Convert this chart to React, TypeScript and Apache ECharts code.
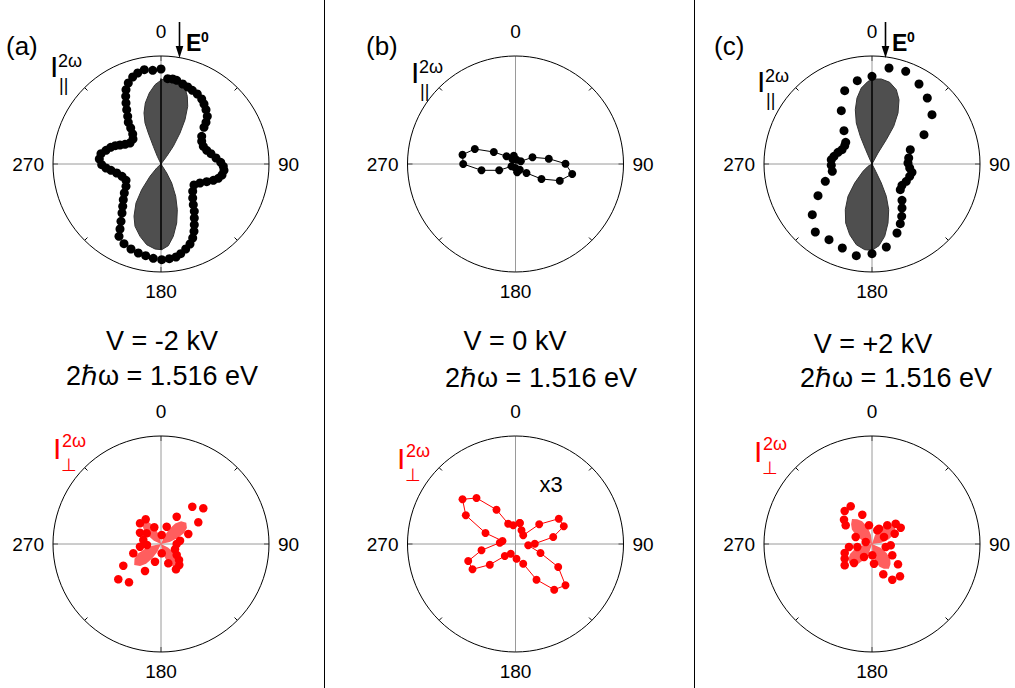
import React, { useEffect, useRef } from "react";
import * as echarts from "echarts";

const FONT = '"Liberation Sans", Arial, Helvetica, sans-serif';

// ---------- texts ----------
const ANGLE_LABELS = [0, 90, 180, 270];
const PANEL_LETTERS = ["(a)", "(b)", "(c)"];
const VOLTAGES = ["V = -2 kV", "V = 0 kV", "V = +2 kV"];
const PHOTON_ENERGY = "2\u210Fω = 1.516 eV";
const SCALE_NOTE = "x3";
const FIELD_LABEL = "E";
const FIELD_SUP = "0";
const INTENSITY = "I";
const INT_SUP = "2ω";
const PAR_SUB = "||";
const PERP_SUB = "⊥";

// ---------- data (x, y) in units where the polar circle radius = 108 ----------
const TOP_A_DOTS = [
  [0, 95], [6.7, 85.3], [11.7, 85], [15.7, 83.7], [21.7, 80], [26.7, 77], [31.3, 73.7], [36.3, 70],
  [40.7, 65], [43, 60], [45, 54.3], [46.3, 47.7], [45, 41.7], [43, 36.7], [40.7, 27.7], [40.7, 22.7],
  [42.3, 17.7], [45.7, 13.7], [50, 10.3], [55, 6], [59.7, 1.7], [62.3, -2.3], [63, -6.3], [61, -11],
  [57.3, -14.3], [52.3, -16.3], [45.7, -17.7], [39, -19], [33, -21], [31.7, -27.3], [31.7, -34],
  [32.3, -40.7], [33.3, -47.3], [33.3, -54], [33.3, -60.7], [33, -67.3], [31.7, -74], [29, -80],
  [24.7, -85], [19.7, -89.7], [15, -93], [8.3, -94.7], [0.7, -95.7], [-7.7, -94.3], [-15.3, -91.7],
  [-22.7, -89], [-30, -85], [-37, -79.7], [-42, -72.3], [-41, -65], [-40, -57.3], [-39, -49],
  [-38.3, -42.3], [-37.7, -35.7], [-36.7, -29], [-35, -22.3], [-35, -16.3], [-39, -12.3], [-44.3, -9],
  [-50, -6.3], [-55, -4], [-59.3, -0.7], [-61.7, 5], [-60, 10.3], [-55, 13.7], [-50.3, 16.7],
  [-45.7, 18.3], [-41, 19], [-36, 19.7], [-31, 21], [-28, 25], [-28.3, 30], [-30.3, 36], [-32.7, 41.7],
  [-33.3, 47.7], [-34.3, 54.3], [-35, 61], [-35.3, 67.7], [-35, 74.3], [-32.7, 81], [-28.3, 87],
  [-23.3, 91], [-16.7, 94.3], [-8.3, 93.7],
];
const TOP_A_LOBE = [
  [0, 0], [5.7, 7.7], [12.3, 17.7], [19, 31], [24, 44.3], [26.7, 57.7], [26.3, 67.7], [24, 76],
  [19, 81.7], [12.3, 85], [5.7, 85.7], [0.7, 84.3], [-6, 79.3], [-11.7, 71], [-15.7, 61], [-17, 51],
  [-16, 41], [-12.7, 31], [-7.7, 17.7], [-3.7, 7.7], [0, 0],
  [5.7, -9], [10.7, -19], [14.7, -32.3], [16.3, -45.7], [15.7, -59], [12.3, -72.3], [7.3, -81.7],
  [0.7, -85.7], [-6, -85], [-14.3, -80.7], [-21, -72.3], [-26, -62.3], [-27, -52.3], [-25, -39],
  [-19.3, -25.7], [-11, -12.3], [-4.3, -4],
];
const TOP_A_AXIS = [[0, -85.7], [0, 85.5]];

const TOP_B_DOTS = [
  [-3, 5], [-1.7, 8.3], [1, 4.3], [5.3, 2.7], [17, 6.7], [33.3, 5.3], [50, 0.3], [56.7, -10],
  [44.3, -16.7], [26, -15], [11, -9], [4.3, -5.7], [1.7, -8.3], [0, -4], [-4, -2.3], [-16.3, -6.3],
  [-34, -6.3], [-52.3, 0], [-53, 9.3], [-40.7, 15], [-21.7, 12], [-9, 7.7],
];

const TOP_C_DOTS = [
  [0, 87.7], [17, 96], [33.7, 92.7], [47, 80], [55.3, 66], [60, 49.3], [52, 29.3], [38.3, 14.3],
  [36.7, 6], [36, 1], [37.7, -4], [40, -8.3], [37.7, -12.3], [34.3, -17.3], [30, -21.3], [28.3, -25.7],
  [30, -36.3], [30, -44], [29.7, -52.3], [28.3, -59.7], [25, -69], [14.3, -83], [0, -89.7],
  [-15.7, -91.7], [-29.7, -84], [-43, -75.7], [-56.7, -68], [-59.7, -50.7], [-54, -31.7],
  [-46.7, -17.3], [-39.7, -7.3], [-40.7, -1.3], [-40.7, 4.3], [-38, 7.7], [-34, 11.7], [-30, 14.3],
  [-27.3, 18.3], [-26.3, 21.7], [-28, 33.3], [-30.7, 53.3], [-27.3, 73.3], [-14.7, 83.3],
];
const TOP_C_LOBE = [
  [0, 0], [6, 11], [14.3, 24.3], [21.7, 37.7], [26, 51], [27, 64.3], [24.3, 74.3], [17.7, 81.7],
  [9.3, 85], [2.7, 85], [-4, 82.7], [-10.7, 76], [-15, 66], [-16.7, 54.3], [-15.7, 41], [-11.7, 27.7],
  [-6.3, 14.3], [-2.3, 5], [0, 0],
  [3.7, -7.3], [9.3, -19], [14.3, -32.3], [16.7, -45.7], [16, -59], [12.7, -72.3], [7, -81.7],
  [0, -86.3], [-7.3, -85.7], [-15.7, -80.7], [-22.3, -70.7], [-26.3, -59], [-26.7, -45.7],
  [-24, -32.3], [-17.3, -19], [-9, -7.3], [-4, -2.3],
];
const TOP_C_AXIS = [[0, -86.3], [0, 85]];

const BOT_A_DOTS = [
  [31.3, 37.3], [42.3, 35.7], [37.3, 21.7], [15.7, 27.3], [27.3, 10], [19, 3.3], [15.7, 0], [14, -5.3],
  [15.7, -11], [18, -16], [18.3, -21], [15, -25.3], [7.3, -19.3], [0.7, -9.3], [-6, -17.7], [-16, -27],
  [-27.7, -9.3], [-37.7, -21.7], [-42.7, -35.3], [-32, -38.3], [-21, -2.7], [-17.7, 4], [-21, 11.3],
  [-21, 20.7], [-15.3, 24.7], [-14.3, 10.7], [-6.7, 16.7], [0.7, 9], [5.7, 17.3], [-14, -1],
];
const BOT_A_LOBE = [
  [0, 0], [3.5, 8.2], [8.4, 14.9], [14.2, 20.4], [20.1, 22.7], [25.3, 21.2], [25.9, 15.9], [22.6, 10.4],
  [16.2, 5.7], [8.7, 2], [0, 0],
  [7, -3.5], [12.3, -8.3], [16.5, -13.9], [17.7, -18], [16.6, -22.5], [12.1, -22.2], [8.5, -19.9],
  [4.3, -14.3], [1.4, -7.7], [0, 0],
  [-3.8, -8.1], [-8.9, -14.5], [-14.9, -19.8], [-20.9, -22], [-26.8, -20.9], [-26.5, -14.8],
  [-22.9, -9.6], [-16.3, -5.1], [-8.8, -1.7], [0, 0],
  [-7.1, 3.3], [-12.5, 7.9], [-16.8, 13.4], [-18.2, 17.5], [-17.9, 22.9], [-12.6, 21.9], [-9, 19.6],
  [-4.7, 14.1], [-1.5, 7.7],
];

const BOT_B_DOTS = [
  [4.3, 21], [6, 13.7], [7.7, 8.7], [23.7, 19.7], [43.3, 25.3], [48.3, 17.7], [37.7, 7], [19.3, 0.3],
  [12.7, -1.3], [25, -9], [42.7, -23], [50, -41.3], [38.7, -45.7], [21, -35.7], [7.7, -19.7],
  [1, -14.7], [-4.7, -9.7], [-10.7, -12], [-25.7, -20.7], [-43, -25.3], [-47.3, -17], [-34, -6.3],
  [-15.7, 1.3], [-13, 3], [-30, 11], [-49.7, 28.7], [-53, 44.7], [-39, 46], [-19, 34.3], [-7.3, 20.3],
  [-2.3, 18.7],
];

const BOT_C_DOTS = [
  [-21.3, 37.7], [-27.3, 33], [-9.7, 29.3], [-28, 24.3], [-26.3, 18.7], [-16.3, 7], [-23, -3],
  [-27.3, -9], [-27.3, -14.7], [-27.3, -21.3], [-18, -19], [-8, -13], [0.3, -11.3], [2, -19.7],
  [11.3, -30.3], [20.3, -35.7], [28, -32.3], [26, -20.3], [20.3, -11.3], [13.7, -3], [12, 7],
  [5.3, 13.7], [-3, 18.7], [7, 15.3], [15.3, 18.7], [23.7, 20.3], [28.7, 16.3], [22.7, 10.3],
  [-14.7, -3], [-6.3, 2], [18.7, -1.3],
];
const BOT_C_LOBE = [
  [0, 0], [3, 9], [8, 15.5], [13.7, 19.6], [18.4, 20.2], [22.8, 18.7], [23.4, 14], [21.9, 9.6],
  [16.8, 4.7], [9.4, 1.2], [0, 0],
  [8.6, -3.8], [14.8, -9.3], [18.3, -15.3], [18.5, -20.1], [16.9, -24.8], [11.9, -24.7], [7.5, -22.7],
  [3.2, -17.1], [0.4, -9.4], [0, 0],
  [-3, -9], [-7.8, -15.6], [-13.6, -19.7], [-18.3, -20.3], [-23, -19], [-23.3, -14.1], [-21.8, -9.7],
  [-16.8, -4.8], [-9.4, -1.2], [0, 0],
  [-8.9, 3.1], [-15.5, 8.1], [-20.1, 14.6], [-20.9, 19.8], [-20, 25], [-14.7, 24.8], [-9.9, 22.8],
  [-4.5, 16.9], [-1.1, 9.3],
];

// ---------- layout ----------
const W = 1015;
const H = 688;
const R = 108;
const COL_X = [161, 515.5, 872];
const ROW_Y = [164, 544];
const BLACK = "#000000";
const RED = "#ff0000";

type Panel = {
  col: number; row: number; dots: number[][]; connected: boolean; color: string; size: number;
  lobe?: number[][]; lobeFill?: string; lobeStroke?: string; axis?: number[][];
};

const PANELS: Panel[] = [
  { col: 0, row: 0, dots: TOP_A_DOTS, connected: false, color: BLACK, size: 9, lobe: TOP_A_LOBE, lobeFill: "#4f4f4f", lobeStroke: "#333333", axis: TOP_A_AXIS },
  { col: 1, row: 0, dots: TOP_B_DOTS, connected: true, color: BLACK, size: 8 },
  { col: 2, row: 0, dots: TOP_C_DOTS, connected: false, color: BLACK, size: 9, lobe: TOP_C_LOBE, lobeFill: "#4f4f4f", lobeStroke: "#333333", axis: TOP_C_AXIS },
  { col: 0, row: 1, dots: BOT_A_DOTS, connected: false, color: RED, size: 8.5, lobe: BOT_A_LOBE, lobeFill: "#ff5e5e" },
  { col: 1, row: 1, dots: BOT_B_DOTS, connected: true, color: RED, size: 8 },
  { col: 2, row: 1, dots: BOT_C_DOTS, connected: false, color: RED, size: 8.5, lobe: BOT_C_LOBE, lobeFill: "#ff5e5e" },
];

// label anchor spots (glyph left, glyph top)
const I_TOP = [[53, 55], [414, 61], [760, 70]];
const I_BOT = [[56, 437], [400, 447], [757, 440]];

function txt(text: string, x: number, y: number, size: number, opts: any = {}) {
  return {
    type: "text",
    silent: true,
    style: {
      text,
      x,
      y,
      fill: opts.fill || BLACK,
      font: `${opts.weight || "normal"} ${size}px ${FONT}`,
      textAlign: opts.align || "left",
      textVerticalAlign: "middle",
    },
  };
}

function buildOption() {
  const polar = PANELS.map((p) => ({ center: [COL_X[p.col], ROW_Y[p.row]], radius: R }));
  const labelRich = (pad: number[]) => ({ fontSize: 19, fontFamily: FONT, color: BLACK, padding: pad });
  const angleAxis = PANELS.map((p, i) => ({
    polarIndex: i,
    type: "value",
    min: 0,
    max: 360,
    interval: 90,
    startAngle: 90,
    clockwise: true,
    axisLine: { show: true, lineStyle: { color: BLACK, width: 1 } },
    axisTick: { show: true, inside: true, length: 5, lineStyle: { color: BLACK, width: 1 } },
    minorTick: { show: true, splitNumber: 2, length: 4, lineStyle: { color: BLACK, width: 1 } },
    splitLine: { show: true, lineStyle: { color: "#9a9a9a", width: 1 } },
    axisLabel: {
      show: true,
      margin: 9,
      formatter: (v: number) => {
        if (!ANGLE_LABELS.includes(v)) return "";
        if (v === 0) return `{t|${v}}`;
        if (v === 180) return `{b|${v}}`;
        return `{s|${v}}`;
      },
      rich: { t: labelRich([0, 0, 6, 0]), b: labelRich([1, 0, 0, 0]), s: labelRich([0, 0, 0, 0]) },
    },
  }));
  const radiusAxis = PANELS.map((p, i) => ({ polarIndex: i, type: "value", min: 0, max: 1, show: false }));
  const grid = PANELS.map((p) => ({
    left: COL_X[p.col] - R, top: ROW_Y[p.row] - R, width: 2 * R, height: 2 * R, show: false,
    containLabel: false, outerBoundsMode: "none",
  }));
  const xAxis = PANELS.map((p, i) => ({ gridIndex: i, type: "value", min: -R, max: R, show: false }));
  const yAxis = PANELS.map((p, i) => ({ gridIndex: i, type: "value", min: -R, max: R, show: false }));

  const series: any[] = [];
  PANELS.forEach((p, i) => {
    if (p.lobe) {
      const lobe = p.lobe;
      series.push({
        type: "custom",
        coordinateSystem: "cartesian2d",
        xAxisIndex: i,
        yAxisIndex: i,
        silent: true,
        z: 2,
        data: [[0, 0]],
        renderItem: (params: any, api: any) => ({
          type: "polygon",
          shape: { points: lobe.map((pt) => api.coord(pt)) },
          style: { fill: p.lobeFill, stroke: p.lobeStroke || "none", lineWidth: 1 },
        }),
      });
    }
    if (p.axis) {
      series.push({
        type: "line", xAxisIndex: i, yAxisIndex: i, data: p.axis, symbol: "none", silent: true, z: 3,
        lineStyle: { color: BLACK, width: 1.5 },
      });
    }
    if (p.connected) {
      series.push({
        type: "line", xAxisIndex: i, yAxisIndex: i, data: [...p.dots, p.dots[0]], symbol: "circle",
        symbolSize: p.size, showSymbol: true, silent: true, z: 4,
        itemStyle: { color: p.color }, lineStyle: { color: p.color, width: 1 },
      });
    } else {
      series.push({
        type: "scatter", xAxisIndex: i, yAxisIndex: i, data: p.dots, symbolSize: p.size, silent: true, z: 4,
        itemStyle: { color: p.color, opacity: 1 },
      });
    }
  });

  const g: any[] = [];
  // separators
  [324.5, 694.5].forEach((x) =>
    g.push({ type: "line", silent: true, shape: { x1: x, y1: 0, x2: x, y2: H }, style: { stroke: BLACK, lineWidth: 1 } })
  );
  // panel letters
  const LETTER_X = [6, 366, 714];
  PANEL_LETTERS.forEach((t, i) => g.push(txt(t, LETTER_X[i], 46, 26)));
  // middle captions
  const V_POS = [[162, 341], [515, 341], [873, 344]];
  const E_POS = [[162, 376], [541, 378], [896, 378]];
  VOLTAGES.forEach((t, i) => g.push(txt(t, V_POS[i][0], V_POS[i][1], 27, { align: "center" })));
  E_POS.forEach((p) => g.push(txt(PHOTON_ENERGY, p[0], p[1], 27, { align: "center" })));
  // intensity labels
  I_TOP.forEach(([x, y]) => {
    g.push(txt(INTENSITY, x - 3, y + 11, 30));
    g.push(txt(INT_SUP, x + 5, y + 6, 18));
    g.push(txt(PAR_SUB, x + 6, y + 30, 18));
  });
  I_BOT.forEach(([x, y]) => {
    g.push(txt(INTENSITY, x - 3, y + 11, 30, { fill: RED }));
    g.push(txt(INT_SUP, x + 6, y + 4, 18, { fill: RED }));
    g.push(txt(PERP_SUB, x + 5, y + 28, 18, { fill: RED }));
  });
  // field arrows (panels a and c)
  const ARROW_X = [179.5, 885.5];
  ARROW_X.forEach((x) => {
    g.push({ type: "line", silent: true, shape: { x1: x, y1: 22, x2: x, y2: 50 }, style: { stroke: BLACK, lineWidth: 1.6 } });
    g.push({ type: "polygon", silent: true, shape: { points: [[x - 3.8, 46], [x + 3.8, 46], [x, 58]] }, style: { fill: BLACK } });
    g.push(txt(FIELD_LABEL, x + 6.5, 43, 23, { weight: "bold" }));
    g.push(txt(FIELD_SUP, x + 21.5, 37, 14, { weight: "bold" }));
  });
  // scale note
  g.push(txt(SCALE_NOTE, 551, 484, 22, { align: "center" }));

  return {
    animation: false,
    backgroundColor: "#ffffff",
    polar,
    angleAxis,
    radiusAxis,
    grid,
    xAxis,
    yAxis,
    series,
    graphic: { elements: g },
  };
}

export default function App() {
  const ref = useRef<HTMLDivElement>(null);
  useEffect(() => {
    document.body.style.margin = "0";
    if (!ref.current) return;
    const chart = echarts.init(ref.current, null, { renderer: "svg", width: W, height: H });
    chart.setOption(buildOption() as any);
    return () => chart.dispose();
  }, []);
  return <div ref={ref} style={{ width: W, height: H }} />;
}
